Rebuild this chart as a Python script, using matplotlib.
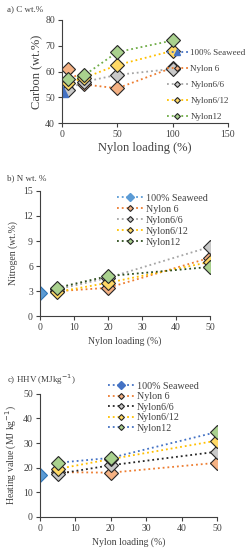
import numpy as np
import matplotlib
matplotlib.use('Agg')
from matplotlib import pyplot as plt
from matplotlib.lines import Line2D

plt.rcParams['font.family'] = ['Liberation Serif', 'DejaVu Serif']

names = ['100% Seaweed', 'Nylon 6', 'Nylon6/6', 'Nylon6/12', 'Nylon12']

# a) carbon
x_a = [5, 20, 50, 100]
seaweed_c = 52.5
carbon = {
    'Nylon 6': [61, 55, 53.5, 61.5],
    'Nylon6/6': [53, 56, 58.7, 61],
    'Nylon6/12': [55.5, 57.5, 62.5, 68],
    'Nylon12': [57, 58.5, 67.5, 72],
}

# b) nitrogen
x_b = [5, 20, 50]
seaweed_n = 2.8
nitrogen = {
    'Nylon 6': [3.0, 3.4, 7.0],
    'Nylon6/6': [3.2, 4.6, 8.3],
    'Nylon6/12': [2.9, 4.0, 6.5],
    'Nylon12': [3.4, 4.8, 5.9],
}

# c) HHV
seaweed_h = 17.2
hhv = {
    'Nylon 6': [18.2, 18.0, 22.0],
    'Nylon6/6': [17.5, 21.0, 26.5],
    'Nylon6/12': [19.5, 23.5, 31.0],
    'Nylon12': [22.0, 24.0, 34.5],
}

face = {'Nylon 6': '#F4B183', 'Nylon6/6': '#C9C9C9', 'Nylon6/12': '#FFD966', 'Nylon12': '#A9D18E'}
line_a = {'Nylon 6': '#ED7D31', 'Nylon6/6': '#A5A5A5', 'Nylon6/12': '#FFC000', 'Nylon12': '#70AD47'}
line_b = {'Nylon 6': '#ED7D31', 'Nylon6/6': '#A5A5A5', 'Nylon6/12': '#FFC000', 'Nylon12': '#2F4F1F'}
line_c = {'Nylon 6': '#ED7D31', 'Nylon6/6': '#262626', 'Nylon6/12': '#FFC000', 'Nylon12': '#4472C4'}
edge = '#262626'
tick_fs = 7


def style_axes(ax):
    ax.spines['top'].set_visible(False)
    ax.spines['right'].set_visible(False)
    ax.spines['left'].set_color('#404040')
    ax.spines['bottom'].set_color('#404040')
    ax.tick_params(labelsize=tick_fs, colors='#404040', length=3, width=0.8, pad=2)


def legend_handles(lines, sw_marker, sw_color):
    h = [Line2D([], [], color=sw_color, ls=':', lw=1.3, marker=sw_marker, ms=4,
                mfc=sw_color, mec=sw_color)]
    for n in names[1:]:
        h.append(Line2D([], [], color=lines[n], ls=':', lw=1.3, marker='D', ms=3,
                        mfc=face[n], mec=edge, mew=0.8))
    return h


fig = plt.figure(figsize=(2.48, 5.5), dpi=100)

# ---- panel a
ax = fig.add_axes([0.25, 0.776, 0.669, 0.188])
for n in names[1:]:
    ax.plot(x_a, carbon[n], ls=':', lw=1.3, color=line_a[n], marker='D', ms=7,
            mfc=face[n], mec=edge, mew=0.8)
ax.plot([0], [seaweed_c], ls='', marker='^', ms=8, color='#4472C4')
ax.set_xlim(0, 150)
ax.set_ylim(40, 80)
ax.set_xticks([0, 50, 100, 150])
ax.set_yticks([40, 50, 60, 70, 80])
style_axes(ax)
ax.set_xlabel('Nylon loading (%)', fontsize=9, color='#404040', labelpad=2)
ax.set_ylabel('Carbon (wt.%)', fontsize=9, color='#404040', labelpad=2)
fig.legend(handles=legend_handles(line_a, '^', '#4472C4'), labels=names,
           loc='upper left', bbox_to_anchor=(0.655, 0.92), frameon=False,
           fontsize=6.5, handlelength=2.3, handletextpad=0.3, labelspacing=0.85,
           borderpad=0, labelcolor='#404040')
fig.text(0.03, 0.984, 'a) C wt.%', fontsize=6.5, color='#404040', va='center')

# ---- panel b
ax = fig.add_axes([0.161, 0.425, 0.686, 0.228])
for n in names[1:]:
    ax.plot(x_b, nitrogen[n], ls=':', lw=1.3, color=line_b[n], marker='D', ms=7,
            mfc=face[n], mec=edge, mew=0.8)
ax.plot([0], [seaweed_n], ls='', marker='D', ms=7, mfc='#5B9BD5', mec='#2E75B6', mew=0.8)
ax.set_xlim(0, 50)
ax.set_ylim(0, 15)
ax.set_xticks([0, 10, 20, 30, 40, 50])
ax.set_yticks([0, 3, 6, 9, 12, 15])
style_axes(ax)
ax.set_xlabel('Nylon loading (%)', fontsize=7, color='#404040', labelpad=3)
ax.set_ylabel('Nitrogen (wt.%)', fontsize=7, color='#404040', labelpad=4)
fig.legend(handles=legend_handles(line_b, 'D', '#5B9BD5'), labels=names,
           loc='upper left', bbox_to_anchor=(0.45, 0.657), frameon=False,
           fontsize=7.2, handlelength=2.6, handletextpad=0.3, labelspacing=0.2,
           borderpad=0, labelcolor='#404040')
fig.text(0.03, 0.676, 'b) N wt. %', fontsize=6.5, color='#404040', va='center')

# ---- panel c
ax = fig.add_axes([0.161, 0.06, 0.714, 0.224])
for n in names[1:]:
    ax.plot(x_b, hhv[n], ls=':', lw=1.3, color=line_c[n], marker='D', ms=7,
            mfc=face[n], mec=edge, mew=0.8)
ax.plot([0], [seaweed_h], ls='', marker='D', ms=7, mfc='#5B9BD5', mec='#2E75B6', mew=0.8)
ax.set_xlim(0, 50)
ax.set_ylim(0, 50)
ax.set_xticks([0, 10, 20, 30, 40, 50])
ax.set_yticks([0, 10, 20, 30, 40, 50])
style_axes(ax)
ax.set_xlabel('Nylon loading (%)', fontsize=7, color='#404040', labelpad=3)
ax.set_ylabel('Heating value (MJ kg$^{-1}$)', fontsize=7, color='#404040', labelpad=3)
fig.legend(handles=legend_handles(line_c, 'D', '#4472C4'), labels=names,
           loc='upper left', bbox_to_anchor=(0.415, 0.315), frameon=False,
           fontsize=7.2, handlelength=2.6, handletextpad=0.3, labelspacing=0.15,
           borderpad=0, labelcolor='#404040')
fig.text(0.03, 0.309, 'c) HHV (MJkg$^{-1}$)', fontsize=6.5, color='#404040', va='center')

fig.savefig('out.png', dpi=100)
